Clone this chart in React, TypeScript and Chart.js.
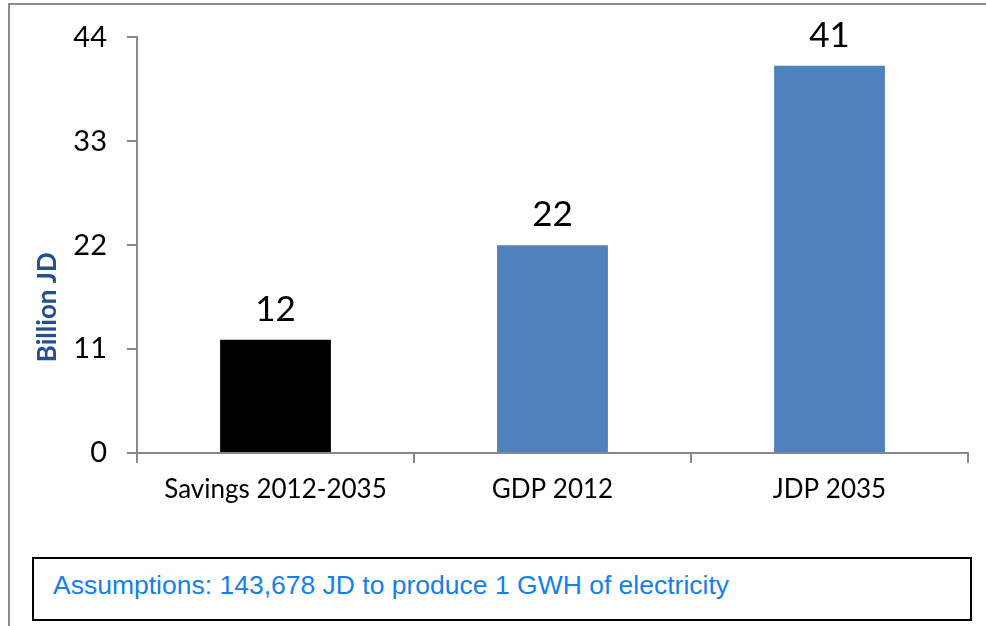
import React, { useEffect, useRef } from "react";
import { Chart, registerables } from "chart.js";

Chart.register(...registerables);

const categories = ["Savings 2012-2035", "GDP 2012", "JDP 2035"];
const values = [12, 22, 41];
const barColors = ["#000000", "#4F81BD", "#4F81BD"];
const yTicks = [0, 11, 22, 33, 44];
const yTitle = "Billion JD";
const note = "Assumptions: 143,678 JD to produce 1 GWH of electricity";

const FONT = "Lato, 'Open Sans', sans-serif";

const labelPlugin = {
  id: "extras",
  afterDatasetsDraw(chart: any) {
    const ctx = chart.ctx;
    const meta = chart.getDatasetMeta(0);
    ctx.save();
    ctx.font = `35px ${FONT}`;
    ctx.fillStyle = "#000";
    ctx.textAlign = "center";
    ctx.textBaseline = "alphabetic";
    meta.data.forEach((bar: any, i: number) => {
      ctx.fillText(String(values[i]), bar.x, bar.y - 19);
    });
    // y axis title
    const ca = chart.chartArea;
    ctx.translate(48, (ca.top + ca.bottom) / 2 + 62);
    ctx.rotate(-Math.PI / 2);
    ctx.font = `bold 26px ${FONT}`;
    ctx.fillStyle = "#24508C";
    ctx.textBaseline = "middle";
    ctx.fillText(yTitle, 0, 0);
    ctx.restore();
  },
};

export default function App() {
  const ref = useRef<HTMLCanvasElement>(null);
  useEffect(() => {
    if (!ref.current) return;
    const chart = new Chart(ref.current, {
      type: "bar",
      data: {
        labels: categories,
        datasets: [
          {
            data: values,
            backgroundColor: barColors,
            barPercentage: 0.4,
            categoryPercentage: 1,
          },
        ],
      },
      options: {
        animation: false,
        responsive: false,
        maintainAspectRatio: false,
        layout: { padding: { left: 0, right: 18, top: 33, bottom: 0 } },
        plugins: { legend: { display: false }, tooltip: { enabled: false } },
        scales: {
          x: {
            afterFit: (s: any) => {
              s.height = 97;
            },
            border: { display: true, color: "#888888", width: 2 },
            grid: {
              display: true,
              drawOnChartArea: false,
              drawTicks: true,
              tickLength: 10,
              color: "#888888",
              lineWidth: 2,
              offset: true,
            },
            ticks: {
              color: "#000",
              font: { family: FONT, size: 26 },
              padding: 11,
              maxRotation: 0,
            },
          },
          y: {
            min: 0,
            max: 44,
            afterFit: (s: any) => {
              s.width = 137;
            },
            afterBuildTicks: (s: any) => {
              s.ticks = yTicks.map((v) => ({ value: v }));
            },
            border: { display: true, color: "#888888", width: 2 },
            grid: {
              display: true,
              drawOnChartArea: false,
              drawTicks: true,
              tickLength: 10,
              color: "#888888",
              lineWidth: 2,
            },
            ticks: {
              color: "#000",
              font: { family: FONT, size: 29 },
              padding: 20,
            },
          },
        },
      },
      plugins: [labelPlugin],
    });
    return () => chart.destroy();
  }, []);

  return (
    <div
      style={{
        position: "fixed",
        left: 0,
        top: 0,
        width: 986,
        height: 626,
        overflow: "hidden",
        background: "#fff",
      }}
    >
      <div
        style={{
          position: "absolute",
          left: 8,
          top: 3,
          width: 1000,
          height: 700,
          border: "2px solid #8c8c8c",
          boxSizing: "border-box",
        }}
      />
      <canvas
        ref={ref}
        width={986}
        height={550}
        style={{ position: "absolute", left: 0, top: 0, width: 986, height: 550 }}
      />
      <div
        style={{
          position: "absolute",
          left: 32,
          top: 557,
          width: 940,
          height: 64,
          border: "2px solid #000",
          boxSizing: "border-box",
          fontFamily: "'Liberation Sans', Arial, sans-serif",
          fontSize: 26.5,
          color: "#1580EB",
          paddingLeft: 19,
          lineHeight: "52px",
          whiteSpace: "nowrap",
        }}
      >
        {note}
      </div>
    </div>
  );
}
